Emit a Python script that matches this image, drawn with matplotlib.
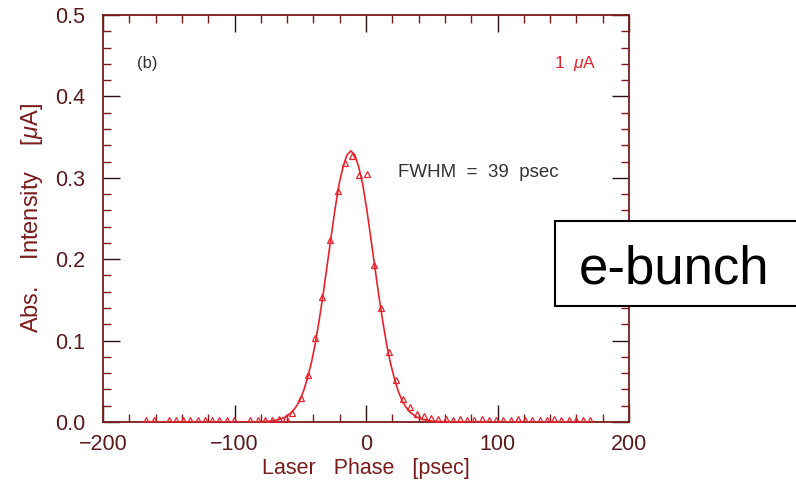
import matplotlib
matplotlib.use("Agg")
import matplotlib.pyplot as plt
from matplotlib.patches import Rectangle
from matplotlib.ticker import MultipleLocator

plt.rcParams['font.family'] = ['Liberation Sans', 'DejaVu Sans']
plt.rcParams['mathtext.fontset'] = 'custom'
plt.rcParams['mathtext.it'] = 'Liberation Sans:italic'
plt.rcParams['mathtext.rm'] = 'Liberation Sans'

# measured points (open triangles)
phase = [-167, -161.5,
         -150, -144.5, -139, -133.5, -128, -122.5, -117, -111.5, -106, -100.5,
         -88, -82.5, -77, -71.5, -66, -60.5,
         -56.5, -49.4, -43.9, -38.6, -33.2, -27.4, -21.5, -16.0, -10.4, -5.1,
         0.5, 6.1, 11.6, 17.3, 22.6, 28.4, 33.7, 38.6,
         44, 49.5, 55, 60.5, 66, 71.5, 77, 82.5, 88, 93.5, 99, 104.5,
         110, 115.5, 121, 126.5, 132, 137.5, 143, 148.5, 154, 159.5, 165, 170]
intensity = [0.003, 0.003,
             0.003, 0.003, 0.003, 0.003, 0.003, 0.003, 0.003, 0.003, 0.003, 0.003,
             0.003, 0.003, 0.003, 0.003, 0.004, 0.005,
             0.011, 0.030, 0.058, 0.103, 0.154, 0.224, 0.284, 0.318, 0.327, 0.304,
             0.305, 0.193, 0.140, 0.086, 0.052, 0.028, 0.018, 0.010,
             0.007, 0.005, 0.004, 0.004, 0.003, 0.004, 0.003, 0.003, 0.004, 0.003, 0.003, 0.003,
             0.003, 0.004, 0.003, 0.003, 0.003, 0.003, 0.004, 0.003, 0.003, 0.003, 0.003, 0.003]

# fitted curve
fit_x = [-170, -83.5, -73.5, -66.5, -61.5, -56.5, -53.5, -50.5, -47.5, -44.5, -41.5,
         -38.5, -35.5, -32.5, -29.5, -26.5, -23.5, -20.5, -17.5, -14.5, -11.5,
         -8.5, -5.5, -2.5, 0.5, 3.5, 6.5, 9.5, 12.5, 15.5, 18.5, 21.5, 24.5,
         27.5, 30.5, 33.5, 38.5, 43.5, 50.5, 60.5, 170]
fit_y = [0.0, 0.0, 0.001, 0.003, 0.006, 0.012, 0.018, 0.026, 0.038, 0.054, 0.073,
         0.097, 0.126, 0.158, 0.193, 0.228, 0.262, 0.292, 0.313, 0.328, 0.333,
         0.328, 0.313, 0.292, 0.262, 0.228, 0.193, 0.158, 0.126, 0.097, 0.073, 0.054, 0.038,
         0.026, 0.018, 0.012, 0.006, 0.003, 0.001, 0.0, 0.0]

maroon = '#7a1c1c'
red = '#e8222c'

fig = plt.figure(figsize=(7.96, 4.87), dpi=100)
ax = fig.add_axes([0.1294, 0.1335, 0.6608, 0.8357])

ax.plot(fit_x, fit_y, color=red, lw=1.2, zorder=3)
ax.plot(phase, intensity, ls='none', marker='^', ms=5, mfc='none', mec=red, mew=0.9, zorder=4)

ax.set_xlim(-200, 200)
ax.set_ylim(0, 0.5)
ax.xaxis.set_major_locator(MultipleLocator(100))
ax.xaxis.set_minor_locator(MultipleLocator(20))
ax.yaxis.set_major_locator(MultipleLocator(0.1))
ax.yaxis.set_minor_locator(MultipleLocator(0.02))
ax.yaxis.set_major_formatter(matplotlib.ticker.FormatStrFormatter('%.1f'))
ax.xaxis.set_major_formatter(matplotlib.ticker.FuncFormatter(lambda v, p: f'{int(v)}'.replace('-', '\u2212')))

ax.tick_params(which='both', direction='in', top=True, right=True, labelsize=15.5,
               labelcolor='#5a1a1a')
ax.tick_params(which='major', length=12, width=1.0, color='#2a1010')
ax.tick_params(which='minor', length=6, width=1.0, color=maroon)
ax.tick_params(axis='y', pad=13)
ax.tick_params(axis='x', pad=9)
for s in ax.spines.values():
    s.set_color(maroon)
    s.set_linewidth(1.3)

ax.set_xlabel('Laser   Phase   [psec]', fontsize=15.5, color=maroon, labelpad=2)
ax.set_ylabel(r'Abs.    Intensity    [$\mu$A]', fontsize=17, color=maroon, labelpad=7)

ax.text(-174, 0.44, '(b)', fontsize=12, color='#333333', va='center')
ax.text(24, 0.307, 'FWHM  =  39  psec', fontsize=13.5, color='#333333', va='center')
ax.text(143, 0.44, r'1  $\mu$A', fontsize=12.5, color=red, va='center')

fig.patches.append(Rectangle((555 / 796, 1 - 306 / 487), 245 / 796, 85 / 487,
                             transform=fig.transFigure, facecolor='white',
                             edgecolor='black', lw=1.5, zorder=10))
fig.text(674 / 796, 1 - 283 / 487, 'e-bunch', fontsize=38, ha='center',
         va='baseline', color='black', zorder=11)

fig.savefig('out.png', dpi=100)
